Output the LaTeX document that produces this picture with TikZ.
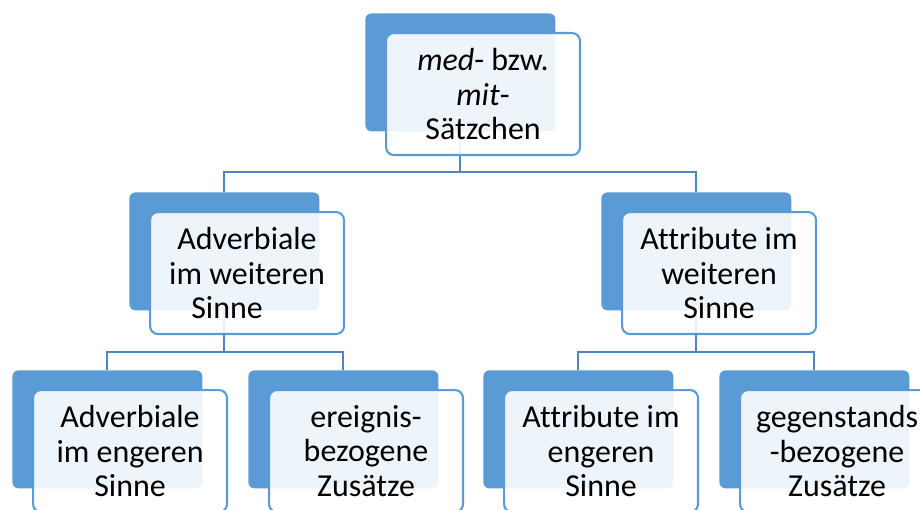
\documentclass[tikz,border=0pt]{standalone}
\usepackage{fontspec}
\setmainfont{Carlito}[Ligatures=NoCommon]
\usetikzlibrary{calc,backgrounds}

\definecolor{accblue}{HTML}{5B9BD5}
\definecolor{linkblue}{HTML}{4F86C0}

\tikzset{
  backbox/.style={fill=accblue, rounded corners=3.5pt, inner sep=0pt,
    minimum width=3.8cm, minimum height=2.36cm, anchor=north west},
  frontbox/.style={fill=white, fill opacity=0.9, text opacity=1,
    draw=accblue, line width=1.2pt, rounded corners=4.5pt, inner sep=0pt,
    minimum width=3.88cm, minimum height=2.44cm, anchor=north west,
    align=center, font=\fontsize{18.2}{19.4}\selectfont},
  link/.style={draw=linkblue, line width=1.2pt}
}

\begin{document}
\begin{tikzpicture}[x=0.02cm, y=-0.02cm]
        \useasboundingbox (0,0) rectangle (920,510);
        % top
        \node[backbox] (b0) at (365,13) {};
        \node[frontbox] (f0) at (385,32) {\textit{med}- bzw.\\\textit{mit}-\\Sätzchen};
        % second row
        \node[backbox] (b1) at (129,192) {};
        \node[frontbox] (f1) at (149,211) {Adverbiale\\im weiteren\\Sinne\hspace*{0.8cm}};
        \node[backbox] (b2) at (601,192) {};
        \node[frontbox] (f2) at (621,211) {Attribute im\\weiteren\\Sinne};
        % third row
        \node[backbox] (b3) at (12,370) {};
        \node[frontbox] (f3) at (32,389) {Adverbiale\\im engeren\\Sinne};
        \node[backbox] (b4) at (248,370) {};
        \node[frontbox] (f4) at (268,389) {ereignis-\\bezogene\\Zusätze};
        \node[backbox] (b5) at (483,370) {};
        \node[frontbox] (f5) at (503,389) {Attribute im\\engeren\\Sinne};
        \node[backbox] (b6) at (719,370) {};
        \node[frontbox] (f6) at (739,389) {gegenstands\\-bezogene\\Zusätze};
        % connectors
        \begin{scope}[on background layer]
            \path (b0.south) ++(0,40) coordinate (j0);
            \path (b1.south) ++(0,41) coordinate (j1);
            \path (b2.south) ++(0,41) coordinate (j2);
            \draw[link] (b0.center) -- (j0) -| (b1.north);
            \draw[link] (j0) -| (b2.north);
            \draw[link] (b1.center) -- (j1) -| (b3.north);
            \draw[link] (j1) -| (b4.north);
            \draw[link] (b2.center) -- (j2) -| (b5.north);
            \draw[link] (j2) -| (b6.north);
        \end{scope}
    \end{tikzpicture}
\end{document}
